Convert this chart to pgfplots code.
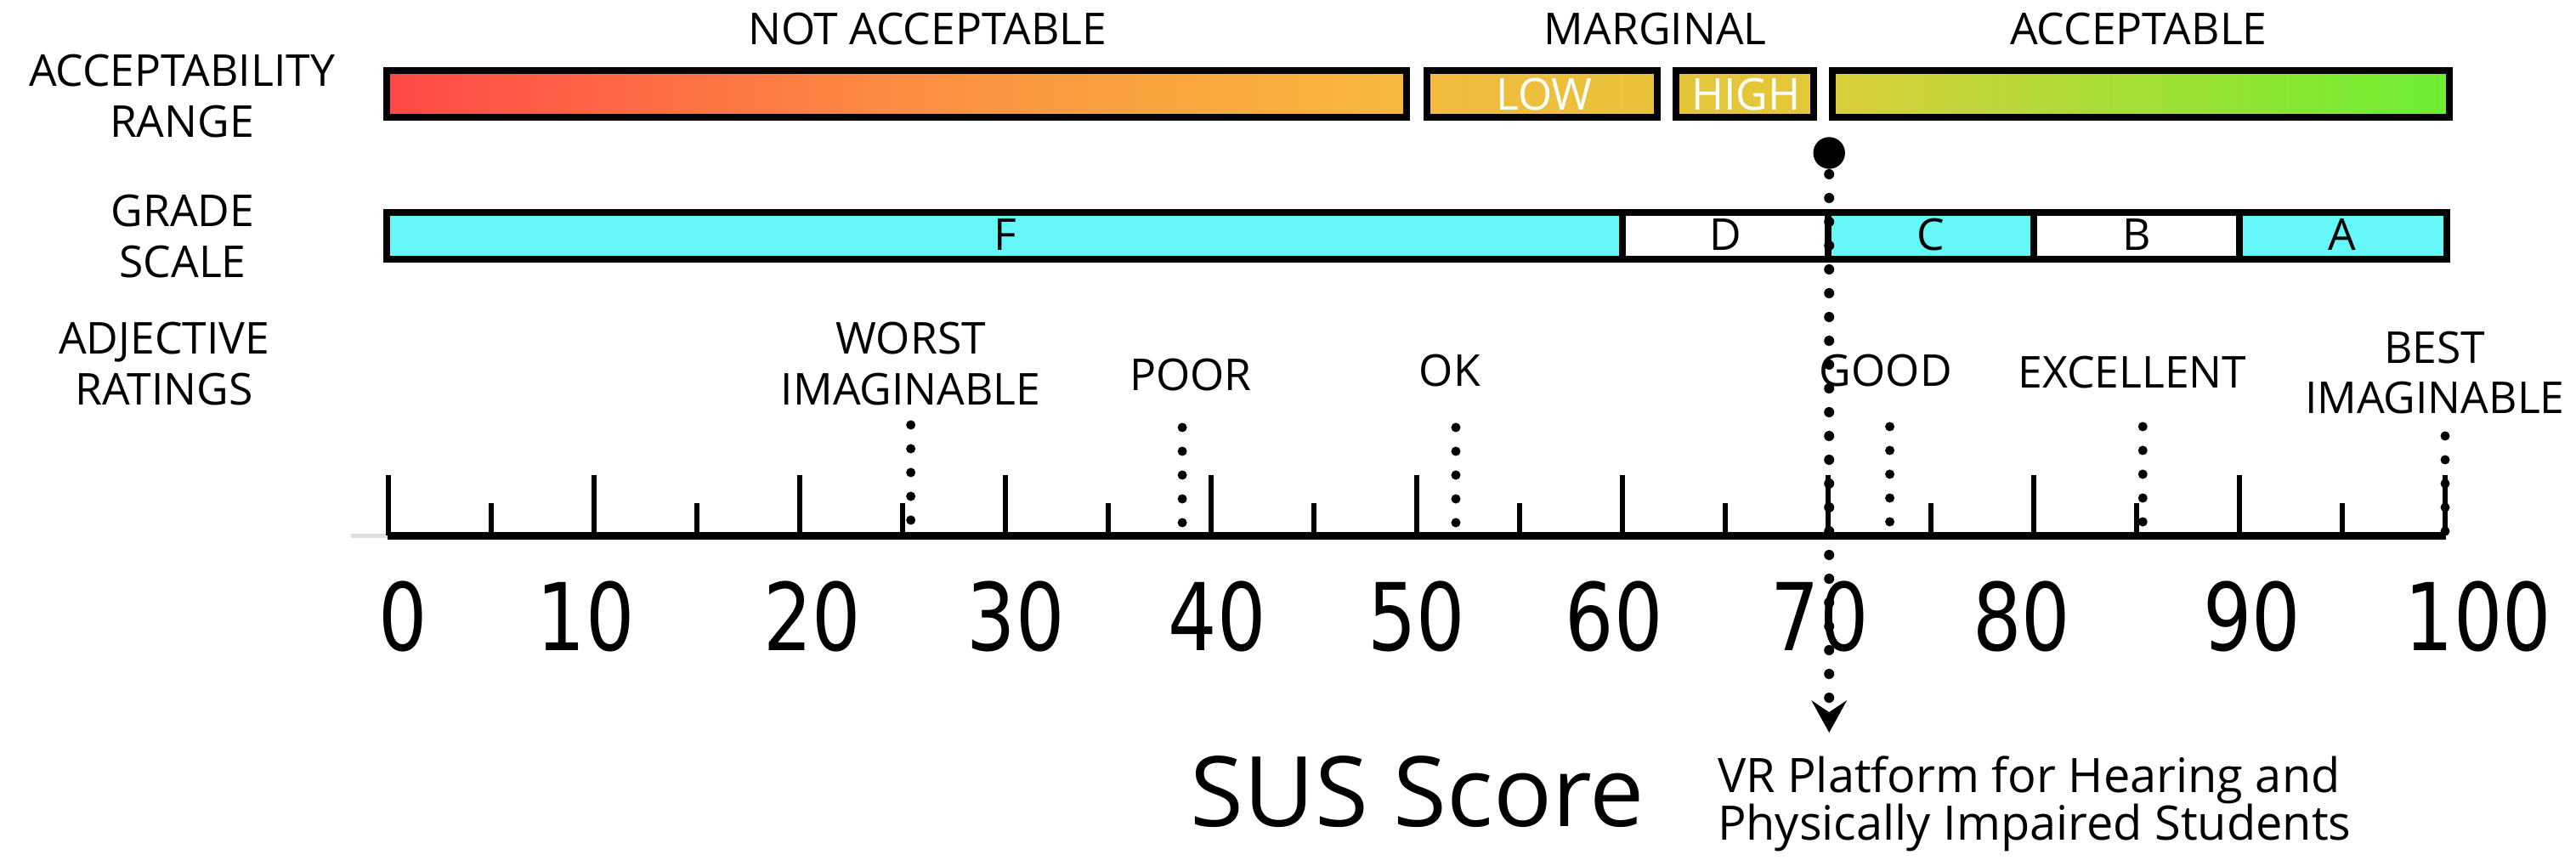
\documentclass[border=0pt]{standalone}
\usepackage{fontspec}
\setmainfont{Open Sans}
\newfontfamily\numfont[FakeStretch=0.82]{DejaVu Sans}
\usepackage{pgfplots}
\pgfplotsset{compat=1.18}
\usetikzlibrary{arrows.meta}

\definecolor{gradecyan}{RGB}{102,248,248}
\definecolor{naL}{RGB}{255,72,72}
\definecolor{naM}{RGB}{252,140,65}
\definecolor{naR}{RGB}{247,186,60}
\definecolor{lowL}{RGB}{242,186,62}
\definecolor{lowR}{RGB}{232,195,58}
\definecolor{hiL}{RGB}{230,196,58}
\definecolor{hiR}{RGB}{226,200,56}
\definecolor{accL}{RGB}{218,206,58}
\definecolor{accR}{RGB}{108,238,48}

\tikzset{
  lab/.style={font=\fontsize{14.7}{17}\selectfont, anchor=base, inner sep=0pt},
  num/.style={font=\numfont\fontsize{31.3}{34}\selectfont, anchor=base, inner sep=0pt},
  dots/.style={line width=1.1mm, dash pattern=on 0pt off 2.8mm, line cap=round}
}

\begin{document}
\begin{tikzpicture}
\begin{axis}[
    width=303.1mm, height=101.8mm, scale only axis,
    xmin=-18.884, xmax=106.364, ymin=-388, ymax=630,
    hide axis, clip=false,
]
% acceptability range
\addplot[draw=black, line width=0.8mm, left color=naL, right color=naR, middle color=naM]
  coordinates {(-0.1,492) (49.5,492) (49.5,547) (-0.1,547)} -- cycle;
\addplot[draw=black, line width=0.8mm, left color=lowL, right color=lowR]
  coordinates {(50.5,492) (61.7,492) (61.7,547) (50.5,547)} -- cycle;
\addplot[draw=black, line width=0.8mm, left color=hiL, right color=hiR]
  coordinates {(62.6,492) (69.3,492) (69.3,547) (62.6,547)} -- cycle;
\addplot[draw=black, line width=0.8mm, left color=accL, right color=accR]
  coordinates {(70.2,492) (100.2,492) (100.2,547) (70.2,547)} -- cycle;

% grade scale
\addplot[draw=black, line width=0.8mm, fill=gradecyan]
  coordinates {(-0.1,325) (60,325) (60,380) (-0.1,380)} -- cycle;
\addplot[draw=black, line width=0.8mm, fill=white]
  coordinates {(60,325) (70,325) (70,380) (60,380)} -- cycle;
\addplot[draw=black, line width=0.8mm, fill=gradecyan]
  coordinates {(70,325) (80,325) (80,380) (70,380)} -- cycle;
\addplot[draw=black, line width=0.8mm, fill=white]
  coordinates {(80,325) (90,325) (90,380) (80,380)} -- cycle;
\addplot[draw=black, line width=0.8mm, fill=gradecyan]
  coordinates {(90,325) (100.1,325) (100.1,380) (90,380)} -- cycle;

% scale line and ticks
\addplot[gray!25, line width=0.5mm] coordinates {(-1.8,0) (0,0)};
\addplot[ycomb, black, line width=0.65mm, mark=none] coordinates {
  (0,71) (10,71) (20,71) (30,71) (40,71) (50,71)
  (60,71) (70,71) (80,71) (90,71) (100,71)};
\addplot[ycomb, black, line width=0.65mm, mark=none] coordinates {
  (5,38) (15,38) (25,38) (35,38) (45,38) (55,38)
  (65,38) (75,38) (85,38) (95,38)};
\addplot[black, line width=0.9mm] coordinates {(-0.03,0) (100.03,0)};

% adjective ratings
\addplot[black, dots] coordinates {(25.4,130) (25.4,5)};
\addplot[black, dots] coordinates {(38.6,127) (38.6,5)};
\addplot[black, dots] coordinates {(51.9,127) (51.9,5)};
\addplot[black, dots] coordinates {(73.0,128) (73.0,5)};
\addplot[black, dots] coordinates {(85.3,128) (85.3,5)};
\addplot[black, dots] coordinates {(100,117) (100,5)};

% SUS score of the platform
\addplot[black, line width=1.2mm, dash pattern=on 0pt off 2.8mm, line cap=round,
  -{Stealth[length=3.8mm, width=4.2mm, inset=1.4mm, line width=0pt]}]
  coordinates {(70.05,425) (70.05,-232)};
\addplot[black, only marks, mark=*, mark size=1.8mm] coordinates {(70.05,450)};

% row labels
\node[lab] at (axis cs:-10.04,528) {ACCEPTABILITY};
\node[lab] at (axis cs:-10.04,468) {RANGE};
\node[lab] at (axis cs:-10.0,363) {GRADE};
\node[lab] at (axis cs:-10.0,303) {SCALE};
\node[lab] at (axis cs:-10.9,213) {ADJECTIVE};
\node[lab] at (axis cs:-10.9,153) {RATINGS};

\node[lab] at (axis cs:26.2,577) {NOT ACCEPTABLE};
\node[lab] at (axis cs:61.6,577) {MARGINAL};
\node[lab] at (axis cs:85.1,577) {ACCEPTABLE};
\node[lab, text=white] at (axis cs:56.2,500) {LOW};
\node[lab, text=white] at (axis cs:66.0,500) {HIGH};

\node[lab] at (axis cs:30,335) {F};
\node[lab] at (axis cs:65,335) {D};
\node[lab] at (axis cs:75,335) {C};
\node[lab] at (axis cs:85,335) {B};
\node[lab] at (axis cs:95,335) {A};

\node[lab] at (axis cs:25.4,213) {WORST};
\node[lab] at (axis cs:25.4,153) {IMAGINABLE};
\node[lab] at (axis cs:39.0,170) {POOR};
\node[lab] at (axis cs:51.6,175) {OK};
\node[lab] at (axis cs:72.8,175) {GOOD};
\node[lab] at (axis cs:84.8,173) {EXCELLENT};
\node[lab] at (axis cs:99.5,202) {BEST};
\node[lab] at (axis cs:99.5,143) {IMAGINABLE};

% tick numbers
\node[num] at (axis cs:0.7,-135) {0};
\node[num] at (axis cs:9.6,-135) {10};
\node[num] at (axis cs:20.6,-135) {20};
\node[num] at (axis cs:30.5,-135) {30};
\node[num] at (axis cs:40.3,-135) {40};
\node[num] at (axis cs:50.0,-135) {50};
\node[num] at (axis cs:59.6,-135) {60};
\node[num] at (axis cs:69.6,-135) {70};
\node[num] at (axis cs:79.4,-135) {80};
\node[num] at (axis cs:90.6,-135) {90};
\node[num] at (axis cs:101.6,-135) {100};

\node[anchor=base, inner sep=0pt, font=\fontsize{32.6}{36}\selectfont] at (axis cs:50.04,-342) {SUS Score};
\node[anchor=base west, inner sep=0pt, font=\fontsize{15.9}{18}\selectfont] at (axis cs:64.6,-302) {VR Platform for Hearing and};
\node[anchor=base west, inner sep=0pt, font=\fontsize{15.9}{18}\selectfont] at (axis cs:64.6,-358) {Physically Impaired Students};
\end{axis}
\pgfresetboundingbox
\path[use as bounding box] (current axis.south west) rectangle (current axis.north east);
\end{tikzpicture}
\end{document}
